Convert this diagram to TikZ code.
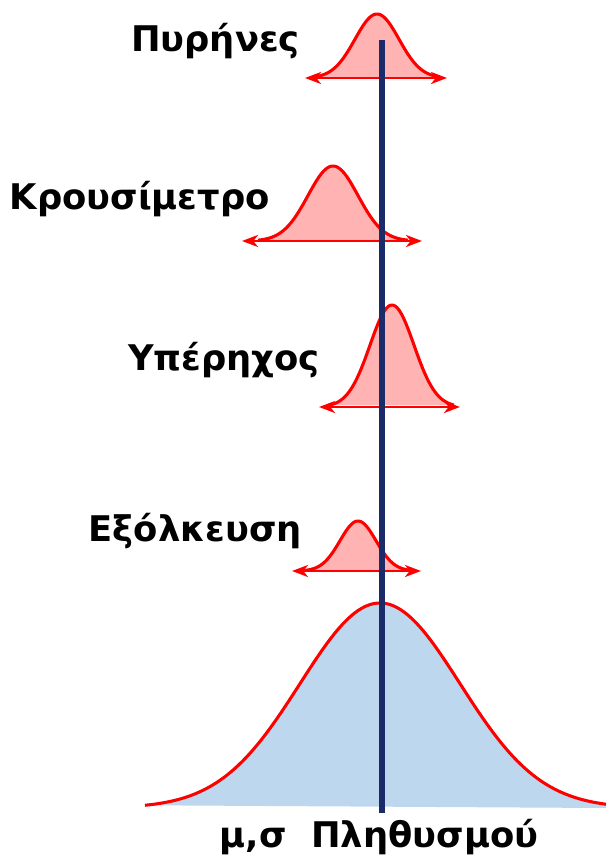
\documentclass[tikz,border=0pt]{standalone}
\usepackage{fontspec}
\setmainfont{DejaVu Sans}
\usetikzlibrary{arrows.meta}
\definecolor{bellpink}{HTML}{FFB3B3}
\definecolor{bellblue}{HTML}{BDD7EE}
\definecolor{meanline}{HTML}{1B2A68}

\begin{document}
\begin{tikzpicture}[x=0.75pt, y=-0.75pt, >={Stealth[length=12pt, width=9pt, inset=3.5pt]},
    every node/.style={font=\bfseries\fontsize{26.5}{30}\selectfont, inner sep=0pt},
    curve/.style={red, line width=2.3pt, line join=round},
    spread/.style={<->, red, line width=1.9pt}]

    \useasboundingbox (0,0) rectangle (606,862);

    % --- 1. Πυρήνες ---
    \fill[bellpink] plot[domain=315:439, samples=60] (\x, {78 - 64*exp(-0.5*((\x-377)/22)^2)}) -- cycle;
    \draw[curve] plot[domain=315:439, samples=60] (\x, {78 - 64*exp(-0.5*((\x-377)/22)^2)});
    \coordinate (p1) at (305,78);
    \coordinate (q1) at (447,78);
    \draw[spread] (p1) -- (q1);
    \node[anchor=base east] (pyr) at (300,52) {Πυρήνες};

    % --- 2. Κρουσίμετρο ---
    \fill[bellpink] plot[domain=258:408, samples=60] (\x, {241 - 75*exp(-0.5*((\x-333)/25)^2)}) -- cycle;
    \draw[curve] plot[domain=258:408, samples=60] (\x, {241 - 75*exp(-0.5*((\x-333)/25)^2)});
    \coordinate (p2) at (242,241);
    \coordinate (q2) at (422,241);
    \draw[spread] (p2) -- (q2);
    \node[anchor=base east] (krou) at (270,210) {Κρουσίμετρο};

    % --- 3. Υπέρηχος ---
    \fill[bellpink] plot[domain=330:454, samples=60] (\x, {407 - 102*exp(-0.5*((\x-392)/22)^2)}) -- cycle;
    \draw[curve] plot[domain=330:454, samples=60] (\x, {407 - 102*exp(-0.5*((\x-392)/22)^2)});
    \coordinate (p3) at (319,407);
    \coordinate (q3) at (460,407);
    \draw[spread] (p3) -- (q3);
    \node[anchor=base east] (yper) at (320,370) {Υπέρηχος};

    % --- 4. Εξόλκευση ---
    \fill[bellpink] plot[domain=304:412, samples=60] (\x, {571 - 50*exp(-0.5*((\x-358)/18)^2)}) -- cycle;
    \draw[curve] plot[domain=304:412, samples=60] (\x, {571 - 50*exp(-0.5*((\x-358)/18)^2)});
    \coordinate (p4) at (292,571);
    \coordinate (q4) at (421,571);
    \draw[spread] (p4) -- (q4);
    \node[anchor=base east] (exol) at (302,541) {Εξόλκευση};

    % --- 5. πληθυσμός ---
    \fill[bellblue] plot[domain=145:606, samples=120] (\x, {808 - 205*exp(-0.5*((\x-380)/80)^2)}) -- (606,808) -- cycle;
    \draw[curve] plot[domain=145:606, samples=120] (\x, {808 - 205*exp(-0.5*((\x-380)/80)^2)});
    \node[anchor=base] (pop) at (379,847) {μ,σ\ \ Πληθυσμού};

    % --- 6. μέση τιμή ---
    \coordinate (top) at (382,40);
    \coordinate (bot) at (382,813);
    \draw[meanline, line width=3.8pt] (top) -- (bot);

\end{tikzpicture}
\end{document}
